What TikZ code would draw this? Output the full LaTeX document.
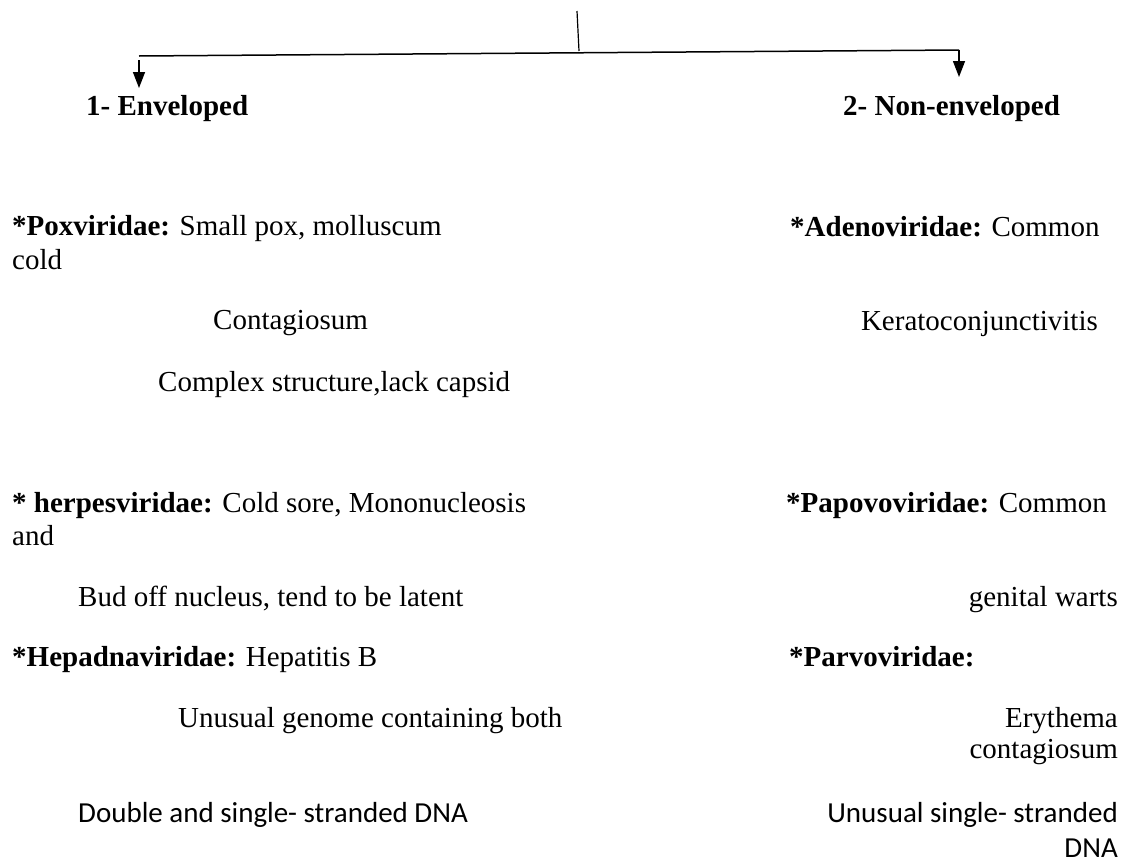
\documentclass[tikz,border=0pt]{standalone}
\usepackage{fontspec}
\setmainfont{Liberation Serif}
\newfontfamily\calfont{Carlito}
\usetikzlibrary{arrows.meta}

\begin{document}
\begin{tikzpicture}[x=1pt,y=-1pt,
  txt/.style={inner sep=0pt,anchor=base west,font=\fontsize{29}{34}\selectfont},
  rtxt/.style={txt,anchor=base east},
  cal/.style={inner sep=0pt,anchor=base west,font=\calfont\fontsize{29}{34}\selectfont},
  rcal/.style={cal,anchor=base east},
  down/.style={-{Triangle[length=16pt,width=12pt]},line width=1.5pt}]
\useasboundingbox (0,0) rectangle (1126,865);
% branch lines
\coordinate (top) at (577,11);\coordinate (mid) at (579,51);
\coordinate (lft) at (139,56);\coordinate (rgt) at (959,50);
\coordinate (lst) at (139,60);\coordinate (ltip) at (139,88);\coordinate (rtip) at (959,77);
\draw[line width=1.2pt] (top)--(mid);
\draw[line width=1.5pt] (lft)--(rgt);
\draw[down] (lst)--(ltip);
\draw[down] (rgt)--(rtip);
% headings
\node[txt] (envl) at (86,115) {\textbf{1- Enveloped}};
\node[txt] (nenv) at (843,115) {\textbf{2- Non-enveloped}};
% left column
\node[txt] (pox) at (12,235) {\textbf{*Poxviridae:} Small pox, molluscum};
\node[txt] (cold) at (12,269) {cold};
\node[txt] (cont) at (213,329) {Contagiosum};
\node[txt] (cplx) at (158,391) {Complex structure,lack capsid};
\node[txt] (herp) at (12,512) {\textbf{* herpesviridae:} Cold sore, Mononucleosis};
\node[txt] (hand) at (12,545) {and};
\node[txt] (bud) at (78,606) {Bud off nucleus, tend to be latent};
\node[txt] (hepa) at (12,666) {\textbf{*Hepadnaviridae:} Hepatitis B};
\node[txt] (unus) at (178,727) {Unusual genome containing both};
\node[cal] (dbl) at (78,822) {Double and single- stranded DNA};
% right column
\node[txt] (ade) at (790,236) {\textbf{*Adenoviridae:} Common};
\node[rtxt] (kera) at (1098,330) {Keratoconjunctivitis};
\node[txt] (papo) at (786,512) {\textbf{*Papovoviridae:} Common};
\node[rtxt] (gen) at (1118,606) {genital warts};
\node[txt] (parv) at (789,666) {\textbf{*Parvoviridae:}};
\node[rtxt] (ery) at (1118,727) {Erythema};
\node[rtxt] (cgs) at (1118,758) {contagiosum};
\node[rcal] (uss) at (1118,822) {Unusual single- stranded};
\node[rcal] (dna) at (1118,857) {DNA};
\end{tikzpicture}
\end{document}
